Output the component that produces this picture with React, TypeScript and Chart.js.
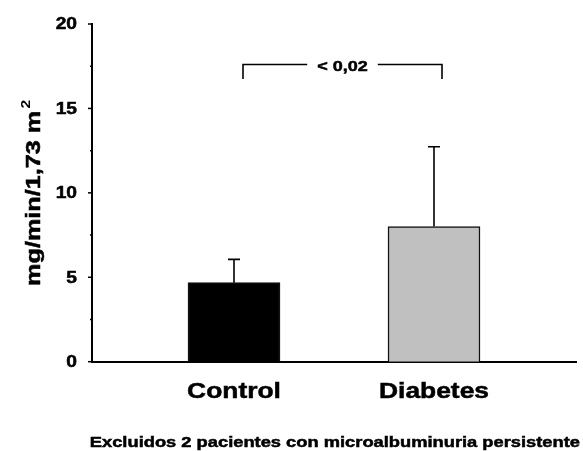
import { useEffect, useRef } from "react";
import { Chart, registerables } from "chart.js";

Chart.register(...registerables);

// Group means and standard deviations (mg/min/1,73 m²)
const groups = ["Control", "Diabetes"];
const means = [4.68, 8.0];
const sds = [1.38, 4.73];
const barColors = ["#000000", "#c0c0c0"];

// Axis ticks
const yMajorTicks = [0, 5, 10, 15, 20];
const yMinorTicks = [2.5, 7.5, 12.5, 17.5];

// Significance bracket between the two groups
const pLabel = "< 0,02";
const bracketFrom = 0.045;
const bracketTo = 1.04;
const bracketLevel = 17.6;
const bracketFoot = 16.75;

// Texts
const yTitle = "mg/min/1,73 m";
const yTitleSup = "2";
const footnote = "Excluidos 2 pacientes con microalbuminuria persistente";

const FONT = '"Liberation Sans", Arial, Helvetica, sans-serif';
const WIDE = 1.2; // wide bold lettering

function wideText(
  ctx: CanvasRenderingContext2D,
  text: string,
  x: number,
  y: number,
  size: number,
  align: CanvasTextAlign,
  baseline: CanvasTextBaseline,
  stretch = WIDE
) {
  ctx.save();
  ctx.font = `bold ${size}px ${FONT}`;
  ctx.textAlign = align;
  ctx.textBaseline = baseline;
  ctx.fillStyle = "#000";
  ctx.strokeStyle = "#000";
  ctx.lineWidth = 0.5;
  ctx.translate(x, y);
  ctx.scale(stretch, 1);
  ctx.fillText(text, 0, 0);
  ctx.strokeText(text, 0, 0);
  ctx.restore();
}

const annotations = {
  id: "annotations",
  afterDatasetsDraw(chart: any) {
    const ctx: CanvasRenderingContext2D = chart.ctx;
    const xs = chart.scales.x;
    const ys = chart.scales.y;
    const area = chart.chartArea;

    ctx.save();
    ctx.strokeStyle = "#000";
    ctx.lineCap = "butt";

    // error bars (upper only)
    ctx.lineWidth = 1.6;
    means.forEach((m, i) => {
      const px = xs.getPixelForValue(i);
      const top = ys.getPixelForValue(m + sds[i]);
      const base = ys.getPixelForValue(m);
      ctx.beginPath();
      ctx.moveTo(px, base);
      ctx.lineTo(px, top);
      ctx.moveTo(px - 6, top);
      ctx.lineTo(px + 6, top);
      ctx.stroke();
    });

    // y tick marks
    ctx.lineWidth = 1.5;
    yMajorTicks.forEach((v) => {
      const py = ys.getPixelForValue(v);
      ctx.beginPath();
      ctx.moveTo(area.left - 4, py);
      ctx.lineTo(area.left, py);
      ctx.stroke();
    });
    yMinorTicks.forEach((v) => {
      const py = ys.getPixelForValue(v);
      ctx.beginPath();
      ctx.moveTo(area.left - 2, py);
      ctx.lineTo(area.left, py);
      ctx.stroke();
    });

    // y tick labels
    yMajorTicks.forEach((v) => {
      const py = ys.getPixelForValue(v);
      wideText(ctx, String(v), area.left - 15, py + 1, 16, "right", "middle");
    });

    // category labels
    groups.forEach((g, i) => {
      const px = xs.getPixelForValue(i);
      wideText(ctx, g, px, area.bottom + 36, 22, "center", "alphabetic");
    });

    // significance bracket
    const bx1 = xs.getPixelForValue(bracketFrom);
    const bx2 = xs.getPixelForValue(bracketTo);
    const by = ys.getPixelForValue(bracketLevel);
    const bf = ys.getPixelForValue(bracketFoot);
    const mid = (bx1 + bx2) / 2;
    ctx.font = `bold 15px ${FONT}`;
    const half = (ctx.measureText(pLabel).width * WIDE) / 2 + 10;
    ctx.lineWidth = 1.6;
    ctx.beginPath();
    ctx.moveTo(bx1, bf);
    ctx.lineTo(bx1, by);
    ctx.lineTo(mid - half, by);
    ctx.moveTo(mid + half, by);
    ctx.lineTo(bx2, by);
    ctx.lineTo(bx2, bf);
    ctx.stroke();
    wideText(ctx, pLabel, mid, by + 2, 15, "center", "middle");

    // rotated y-axis title with superscript
    ctx.save();
    const cy = (area.top + area.bottom) / 2;
    ctx.translate(40, cy);
    ctx.rotate(-Math.PI / 2);
    ctx.scale(WIDE, 1);
    ctx.fillStyle = "#000";
    ctx.strokeStyle = "#000";
    ctx.lineWidth = 0.5;
    ctx.textBaseline = "alphabetic";
    ctx.textAlign = "left";
    ctx.font = `bold 21px ${FONT}`;
    const wMain = ctx.measureText(yTitle).width;
    ctx.font = `bold 13px ${FONT}`;
    const wSup = ctx.measureText(yTitleSup).width;
    const start = -(wMain + wSup + 2) / 2;
    ctx.font = `bold 21px ${FONT}`;
    ctx.fillText(yTitle, start, 0);
    ctx.strokeText(yTitle, start, 0);
    ctx.font = `bold 13px ${FONT}`;
    ctx.fillText(yTitleSup, start + wMain + 2, -10);
    ctx.restore();

    // footnote
    wideText(ctx, footnote, chart.width - 3, chart.height - 4, 15, "right", "alphabetic", 1.22);

    ctx.restore();
  },
};

export default function App() {
  const canvasRef = useRef<HTMLCanvasElement | null>(null);

  useEffect(() => {
    if (!canvasRef.current) return;
    const chart = new Chart(canvasRef.current, {
      type: "bar",
      data: {
        datasets: [
          {
            data: groups.map((_, i) => ({ x: i, y: means[i] })),
            backgroundColor: barColors,
            borderColor: "#111",
            borderWidth: 1.5,
            borderSkipped: "bottom",
            barThickness: 92,
          },
        ],
      },
      options: {
        responsive: false,
        animation: false,
        layout: { padding: { top: 24, right: 7, left: 0, bottom: 0 } },
        plugins: {
          legend: { display: false },
          tooltip: { enabled: false },
        },
        scales: {
          x: {
            type: "linear",
            offset: false,
            min: -0.71,
            max: 1.71,
            grid: { display: false },
            ticks: { display: false },
            border: { display: true, color: "#000", width: 2 },
            afterFit: (s: any) => {
              s.height = 89.3;
            },
          },
          y: {
            min: 0,
            max: 20,
            grid: { display: false },
            ticks: { display: false },
            border: { display: true, color: "#000", width: 2 },
            afterFit: (s: any) => {
              s.width = 92;
            },
          },
        },
      },
      plugins: [annotations],
    });
    return () => chart.destroy();
  }, []);

  return (
    <div style={{ position: "absolute", left: 0, top: 0, width: 583, height: 451, background: "#fff" }}>
      <canvas ref={canvasRef} width={583} height={451} style={{ display: "block" }} />
    </div>
  );
}
